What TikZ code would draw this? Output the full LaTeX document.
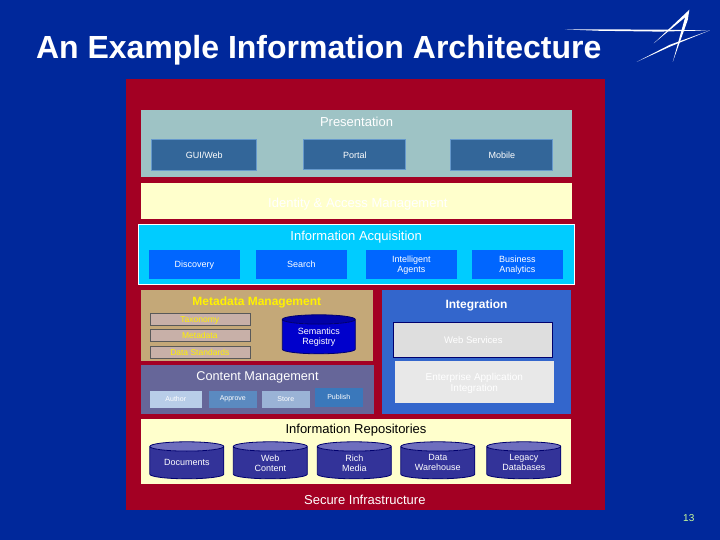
\documentclass[tikz,border=0pt]{standalone}
\usepackage{xcolor}
\usepackage{fontspec}
\setmainfont{Liberation Sans}
\usetikzlibrary{positioning,shapes.geometric}
\definecolor{cbg}{RGB}{0,40,155}
\definecolor{cred}{RGB}{163,0,35}
\definecolor{cpres}{RGB}{158,195,197}
\definecolor{cpbox}{RGB}{51,102,153}
\definecolor{cpedge}{RGB}{102,153,204}
\definecolor{ccream}{RGB}{255,255,204}
\definecolor{cacq}{RGB}{0,204,255}
\definecolor{cabox}{RGB}{0,102,255}
\definecolor{cmeta}{RGB}{196,168,120}
\definecolor{cmbox}{RGB}{200,176,168}
\definecolor{ccont}{RGB}{102,102,153}
\definecolor{cint}{RGB}{51,102,204}
\definecolor{ccyl}{RGB}{51,51,153}
\definecolor{ccyltop}{RGB}{110,110,190}
\definecolor{cnavy}{RGB}{0,0,110}
\definecolor{cauthor}{RGB}{184,205,232}
\definecolor{capprove}{RGB}{91,138,192}
\definecolor{cstore}{RGB}{154,179,214}
\definecolor{cpublish}{RGB}{58,120,187}
\definecolor{cnum}{RGB}{204,255,153}
\newcommand{\cyltext}[1]{\parbox[c][20pt][c]{62pt}{\centering\baselineskip=10pt #1}}

\begin{document}
\begin{tikzpicture}[
  x=1pt,y=-1pt,
  font=\fontsize{9}{10.5}\selectfont,
  area/.style 2 args={rectangle,anchor=north west,inner sep=0,minimum width=#1,minimum height=#2},
  title/.style={font=\fontsize{13}{15}\selectfont,text=white,inner sep=0},
  pbox/.style={rectangle,draw=cpedge,fill=cpbox,text=white,line width=0.8pt,minimum width=102pt,minimum height=31pt,inner sep=0},
  abox/.style={rectangle,fill=cabox,text=white,minimum width=91pt,minimum height=29pt,inner sep=0,align=center,text depth=0pt},
  mbox/.style={rectangle,draw=black!65,fill=cmbox,text=yellow,minimum width=100pt,minimum height=12pt,inner sep=0,text height=8pt,text depth=0pt,font=\fontsize{8.5}{10}\selectfont},
  cbox/.style={rectangle,text=white,minimum width=48pt,minimum height=17pt,inner sep=0,font=\fontsize{7}{8}\selectfont},
  store/.style={cylinder,shape border rotate=90,aspect=0.15,anchor=shape center,draw=cnavy,line width=0.8pt,cylinder uses custom fill,cylinder body fill=ccyl,cylinder end fill=ccyltop,text=white,minimum width=74pt,minimum height=37pt,inner sep=0},
  logo/.style={fill=white,draw=none},
]
% Background
\node[area={720pt}{540pt},fill=cbg] (page) at (0,0) {};
\node[area={479.5pt}{431pt},fill=cred] (frame) at (125.5,79) {};
\node[font=\bfseries\fontsize{32}{36}\selectfont,text=white,anchor=base west,inner sep=0] (head) at (36,59) {An Example Information Architecture};
\node[text=cnum,font=\fontsize{10}{12}\selectfont] (pagenum) at (689,518.5) {13};

% Logo
\fill[logo] (565,29.6) -- (600,29.6) -- (660,29.8) -- (710,30.6) -- (660,31.8) -- (600,31) -- cycle;
\fill[logo] (689.5,10) -- (654,43.5) -- (686.5,16.5) -- cycle;
\fill[logo] (689.5,10) -- (686,15) -- (673,62) -- (688,20) -- cycle;
\fill[logo] (710,30.6) -- (670,45) -- (637,62) -- (671,46.5) -- cycle;

% Presentation
\node[area={431pt}{67pt},fill=cpres] (pres) at (141,110) {};
\node[title,below=7pt of pres.north] (prestitle) {Presentation};
\node[pbox,minimum width=105pt] (gui) at (204.5,155) {GUI/Web};
\node[pbox,minimum height=30pt] (portal) at (355,155) {Portal};
\node[pbox] (mobile) at (502,155) {Mobile};

% Identity
\node[area={431pt}{36pt},fill=ccream] (ident) at (141,183) {};
\node[title] (identtitle) at (358,204) {Identity \& Access Management};

% Acquisition
\node[area={436pt}{60pt},fill=cacq,draw=white,line width=0.8pt] (acq) at (138,224) {};
\node[title,below=7.5pt of acq.north] (acqtitle) {Information Acquisition};
\node[abox] (disc) at (194.5,264.5) {Discovery};
\node[abox] (search) at (301.5,264.5) {Search};
\node[abox] (agents) at (411.5,264.5) {Intelligent\\Agents};
\node[abox] (bus) at (517.5,264.5) {Business\\Analytics};

% Metadata
\node[area={232pt}{71pt},fill=cmeta] (meta) at (141,290) {};
\node[font=\bfseries\fontsize{12}{14}\selectfont,text=yellow,inner sep=0] (metatitle) at (257,302.5) {Metadata Management};
\node[mbox] (tax) at (200,319) {Taxonomy};
\node[mbox] (mdata) at (200,335) {Metadata};
\node[mbox] (dstd) at (200,352) {Data Standards};
\node[store,minimum width=73pt,minimum height=39pt,cylinder body fill=blue!80!black,cylinder end fill=blue!65!black] (sem) at (319,334.5) {\cyltext{Semantics\\Registry}};

% Content
\node[area={233pt}{49pt},fill=ccont] (cont) at (141,365) {};
\node[title,font=\fontsize{12.7}{15}\selectfont,below=6.5pt of cont.north] (conttitle) {Content Management};
\node[cbox,fill=cauthor,minimum width=52pt] (author) at (176,399.5) {Author};
\node[cbox,fill=capprove] (approve) at (233,399.5) {Approve};
\node[cbox,fill=cstore] (storebox) at (286,399.5) {Store};
\node[cbox,fill=cpublish,minimum height=19pt] (publish) at (339,397.5) {Publish};

% Integration
\node[area={189pt}{124pt},fill=cint] (integ) at (382,290) {};
\node[title,font=\bfseries\fontsize{12}{14}\selectfont,below=9.5pt of integ.north] (integtitle) {Integration};
\node[rectangle,draw=cnavy,fill=black!13,text=white,minimum width=159pt,minimum height=35pt,inner sep=0,line width=0.8pt,font=\fontsize{9.5}{11}\selectfont] (web) at (473.5,340.5) {Web Services};
\node[rectangle,fill=black!9,text=white,minimum width=159pt,minimum height=42pt,inner sep=0,align=center,text depth=0pt,font=\fontsize{10}{11.5}\selectfont] (eai) at (474.5,382.5) {Enterprise Application\\Integration};

% Repositories
\node[area={430pt}{65pt},fill=ccream] (repo) at (141,419) {};
\node[title,text=black,below=5.5pt of repo.north] (repotitle) {Information Repositories};
\node[store] (docs) at (187,460.5) {\cyltext{Documents}};
\node[store] (webc) at (270.5,460.5) {\cyltext{Web\\Content}};
\node[store] (rich) at (354.5,460.5) {\cyltext{Rich\\Media}};
\node[store] (ware) at (438,460.5) {\cyltext{Data\\Warehouse}};
\node[store] (legacy) at (524,460.5) {\cyltext{Legacy\\Databases}};

\node[title] (secure) at (365,500) {Secure Infrastructure};
\end{tikzpicture}
\end{document}
